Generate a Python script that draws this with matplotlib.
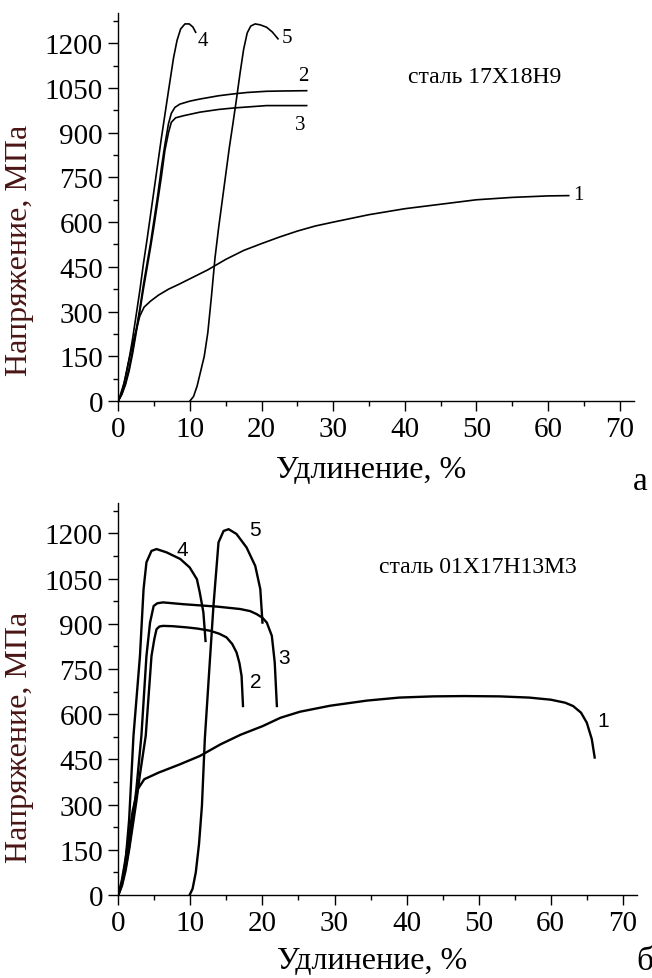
import matplotlib.pyplot as plt
from matplotlib.ticker import MultipleLocator

plt.rcParams['font.family'] = ['Liberation Serif', 'DejaVu Serif']

# ---- panel a: сталь 17Х18Н9 ----
a1_x = [0, 0.8, 1.5, 2.3, 3.0, 3.6, 4.5, 5.6, 7, 8.5, 10, 12.5, 15, 17.5, 20, 22.5, 25, 27.5, 30, 35, 40, 45, 50, 55, 60, 62.9]
a1_y = [0, 60, 140, 220, 285, 315, 335, 355, 375, 392, 410, 440, 475, 505, 528, 550, 570, 587, 600, 625, 645, 660, 675, 683, 688, 689]

a2_x = [0, 0.5, 1, 1.5, 2, 2.5, 3, 3.5, 4, 4.5, 5, 5.5, 6, 6.5, 7, 7.4, 7.9, 8.6, 10, 11.4, 14, 16, 18, 20.7, 23, 26.3]
a2_y = [0, 25, 60, 110, 170, 240, 310, 390, 460, 530, 610, 690, 780, 860, 930, 965, 985, 996, 1006, 1013, 1024, 1030, 1035, 1039, 1040, 1041]

a3_x = [0, 0.5, 1, 1.5, 2, 2.5, 3, 3.5, 4, 4.5, 5, 5.5, 6, 6.5, 7, 7.4, 8, 9.1, 11.4, 14, 16.1, 20.7, 26.3]
a3_y = [0, 22, 55, 100, 160, 230, 300, 375, 445, 515, 590, 670, 750, 840, 900, 935, 950, 957, 969, 978, 983, 991, 991]

a4_x = [0, 0.5, 1, 1.5, 2, 2.5, 3, 3.5, 4, 5, 6, 7, 7.7, 8.2, 8.7, 9.3, 9.9, 10.4, 10.8]
a4_y = [0, 30, 80, 140, 210, 290, 370, 460, 540, 710, 880, 1040, 1150, 1210, 1248, 1265, 1265, 1255, 1237]

a5_x = [10, 10.5, 11, 11.5, 12, 12.5, 13, 13.5, 14, 14.5, 15, 15.5, 16, 16.5, 17, 17.5, 18, 18.5, 19.1, 19.8, 20.7, 21.5, 22.3]
a5_y = [0, 15, 50, 100, 150, 230, 350, 480, 580, 670, 760, 850, 930, 1013, 1100, 1180, 1235, 1258, 1265, 1262, 1254, 1238, 1215]

# ---- panel б: сталь 01Х17Н13М3 ----
b1_x = [0, 0.5, 1, 1.5, 2, 2.7, 3.6, 5.6, 8.5, 11.3, 14.2, 17, 20, 22.5, 25.2, 29.4, 34.5, 39, 43.7, 48, 52.9, 57, 60, 62, 63.1, 64.2, 65, 65.7, 66.1]
b1_y = [0, 50, 120, 200, 280, 351, 384, 406, 433, 461, 500, 532, 560, 588, 608, 628, 645, 655, 659, 660, 659, 655, 648, 638, 627, 605, 572, 517, 456]

b2_x = [0, 0.5, 1, 1.5, 2, 2.5, 3, 3.8, 4.6, 5.0, 5.3, 5.7, 6.2, 7.5, 9.5, 11, 12.7, 14, 15, 15.8, 16.4, 16.8, 17.1, 17.3]
b2_y = [0, 30, 80, 150, 230, 310, 400, 528, 793, 850, 882, 891, 893, 892, 888, 884, 877, 867, 855, 833, 805, 770, 727, 627]

b3_x = [0, 0.5, 1, 1.5, 2, 2.5, 3.2, 3.9, 4.4, 4.9, 5.4, 6.2, 9.0, 13.7, 16.9, 18.3, 19.2, 20.0, 20.6, 21.3, 21.7, 22.0]
b3_y = [0, 35, 90, 160, 250, 350, 528, 793, 904, 959, 968, 971, 965, 957, 949, 942, 932, 920, 904, 860, 772, 627]

b4_x = [0, 0.5, 1, 1.5, 2.1, 3.0, 3.5, 3.9, 4.6, 5.3, 6.7, 8.6, 9.9, 10.9, 11.3, 11.8, 12.1]
b4_y = [0, 40, 110, 250, 528, 793, 1015, 1104, 1142, 1148, 1137, 1115, 1087, 1048, 1004, 938, 843]

b5_x = [9.9, 10.3, 10.75, 11.2, 11.6, 12.0, 12.6, 13.2, 13.9, 14.6, 15.3, 16.4, 17.8, 19.0, 19.7, 20.0]
b5_y = [0, 20, 75, 170, 296, 517, 740, 960, 1170, 1208, 1214, 1198, 1153, 1092, 1015, 904]

curve_names = ["1", "2", "3", "4", "5"]
a_label_xy = [(64.3, 694), (25.9, 1091), (25.4, 929), (11.8, 1209), (23.5, 1220)]
b_label_xy = [(67.3, 578), (19.0, 707), (23.0, 788), (8.9, 1148), (19.0, 1214)]

fig = plt.figure(figsize=(6.52, 9.79), dpi=100)
ax1 = fig.add_axes([0.1815, 0.5894, 0.7907, 0.3958])
ax2 = fig.add_axes([0.1815, 0.0849, 0.7958, 0.4000])

for x, y in [(a1_x, a1_y), (a2_x, a2_y), (a3_x, a3_y), (a4_x, a4_y), (a5_x, a5_y)]:
    ax1.plot(x, y, color="black", lw=1.2)
for x, y in [(b1_x, b1_y), (b2_x, b2_y), (b3_x, b3_y), (b4_x, b4_y), (b5_x, b5_y)]:
    ax2.plot(x, y, color="black", lw=1.7)

for name, (x, y) in zip(curve_names, a_label_xy):
    ax1.text(x, y, name, fontsize=15, ha="center", va="center")
for name, (x, y) in zip(curve_names, b_label_xy):
    ax2.text(x, y, name, fontsize=15, ha="center", va="center", family="Liberation Sans")

ax1.text(51.2, 1090, "сталь 17Х18Н9", fontsize=17, ha="center", va="center")
ax2.text(49.9, 1091, "сталь 01Х17Н13М3", fontsize=17, ha="center", va="center")

for ax in (ax1, ax2):
    ax.set_xlim(0, 72)
    ax.set_ylim(0, 1300)
    ax.xaxis.set_major_locator(MultipleLocator(10))
    ax.xaxis.set_minor_locator(MultipleLocator(5))
    ax.yaxis.set_major_locator(MultipleLocator(150))
    ax.yaxis.set_minor_locator(MultipleLocator(75))
    ax.spines["top"].set_visible(False)
    ax.spines["right"].set_visible(False)
    ax.spines["left"].set_linewidth(1.0)
    ax.spines["bottom"].set_linewidth(1.0)
    ax.tick_params(which="major", direction="out", length=7, width=1.0, labelsize=21, pad=4)
    ax.tick_params(which="minor", direction="out", length=3.5, width=1.0)
    ax.set_xlabel("Удлинение, %", fontsize=23)
    ax.set_ylabel("Напряжение, МПа", fontsize=23, color="#4a1515")
    ax.xaxis.label.set_va("center")
    ax.yaxis.label.set_va("center")

ax1.xaxis.set_label_coords(0.49, -0.178)
ax2.xaxis.set_label_coords(0.49, -0.167)
ax1.yaxis.set_label_coords(-0.192, 0.39)
ax2.yaxis.set_label_coords(-0.190, 0.406)

fig.text(640 / 652, 0.508, "а", fontsize=24, ha="center", va="center")
fig.text(645 / 652, 0.002, "б", fontsize=24, ha="center", va="bottom")

fig.savefig("out.png", dpi=100)
